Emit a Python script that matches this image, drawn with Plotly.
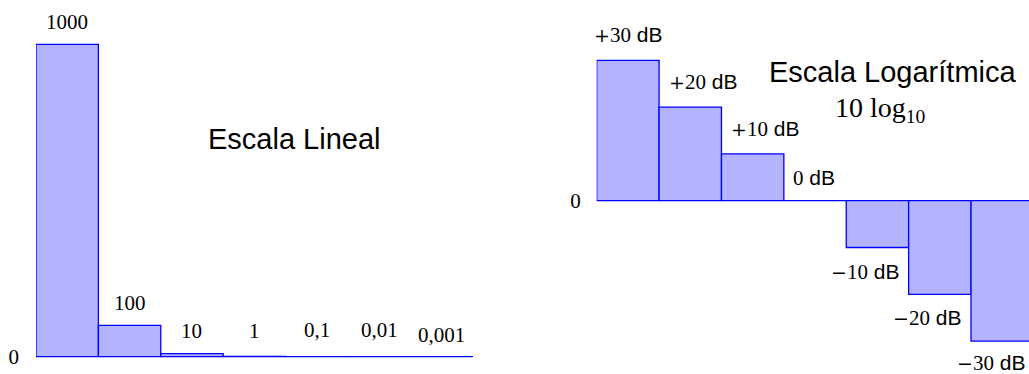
import plotly.graph_objects as go

# ---------------- data ----------------
lin_values = [1000, 100, 10, 1, 0.1, 0.01, 0.001]
lin_labels = ["1000", "100", "10", "1", "0,1", "0,01", "0,001"]

db_values = [30, 20, 10, 0, -10, -20, -30]
db_signs = ["+", "+", "+", "", "\u2212", "\u2212", "\u2212"]
db_numbers = ["30", "20", "10", "0", "10", "20", "30"]

positions = [0, 1, 2, 3, 4, 5, 6]

# ---------------- style ----------------
W, H = 1029, 374
FILL = "rgb(179,179,255)"
EDGE = "rgb(0,0,255)"
SERIF = "Liberation Serif"
SANS = "Liberation Sans"
SIGNFONT = "DejaVu Serif"

# label pixel offsets (styling only)
lin_dy = [22, 22, 23, 25, 27, 27, 22]
db_dx = [0, 12.5, 12.5, -1, -12, -12.5, -11.5]
db_dy = [25, 25, 25, 23, -24, -24, -22]

fig = go.Figure()

fig.add_trace(go.Bar(
    x=positions, y=lin_values, xaxis="x", yaxis="y",
    marker=dict(color=FILL, line=dict(color=EDGE, width=1.3)),
    hoverinfo="skip", showlegend=False,
))
fig.add_trace(go.Bar(
    x=positions, y=db_values, xaxis="x2", yaxis="y2",
    marker=dict(color=FILL, line=dict(color=EDGE, width=1.3)),
    hoverinfo="skip", showlegend=False,
))


def px_x(p):
    return p / W


def px_y(p):
    return 1 - p / H


# axis geometry (pixels)
L_left, L_right, L_base, L_top_px = 36.0, 472.7, 356.7, 44.3
k_lin = (L_base - L_top_px) / 1000.0
R_left, R_base = 596.7, 200.7
bar_px = (L_right - L_left) / 7.0
k_db = 4.68

axis_common = dict(showgrid=False, showline=False, zeroline=False, fixedrange=True)

fig.update_layout(
    width=W, height=H,
    margin=dict(l=0, r=0, t=0, b=0),
    paper_bgcolor="white", plot_bgcolor="rgba(0,0,0,0)",
    bargap=0,
    font=dict(family=SANS, size=21, color="black"),
    xaxis=dict(domain=[px_x(L_left), px_x(L_right)], range=[-0.5, 6.5],
               showticklabels=False, ticks="", anchor="y", **axis_common),
    yaxis=dict(domain=[0, 1], range=[-(H - L_base) / k_lin, L_base / k_lin],
               anchor="x", showgrid=False, showline=False, fixedrange=True,
               zeroline=True, zerolinecolor=EDGE, zerolinewidth=1.3,
               tickvals=[0], ticktext=["0"], ticks="",
               tickfont=dict(family=SERIF, size=21, color="black"),
               ticklabelstandoff=16),
    xaxis2=dict(domain=[px_x(R_left), 1.0],
                range=[-0.5, -0.5 + (W - R_left) / bar_px],
                showticklabels=False, ticks="", anchor="y2", **axis_common),
    yaxis2=dict(domain=[0, 1], range=[-(H - R_base) / k_db, R_base / k_db],
                anchor="x2", showgrid=False, showline=False, fixedrange=True,
                zeroline=True, zerolinecolor=EDGE, zerolinewidth=1.3,
                tickvals=[0], ticktext=["0"], ticks="",
                tickfont=dict(family=SERIF, size=21, color="black"),
                ticklabelstandoff=15),
)

annotations = []
for xi, v, lab, dy in zip(positions, lin_values, lin_labels, lin_dy):
    annotations.append(dict(
        x=xi, y=v, xref="x", yref="y", text=lab, showarrow=False,
        xanchor="center", yanchor="middle", yshift=dy,
        font=dict(family=SERIF, size=21, color="black"),
    ))

for xi, v, sg, num, dx, dy in zip(positions, db_values, db_signs, db_numbers, db_dx, db_dy):
    sign_html = (f"<span style='font-family:{SIGNFONT};font-size:19px'>{sg}</span>"
                 if sg else "")
    annotations.append(dict(
        x=xi, y=v, xref="x2", yref="y2",
        text=f"{sign_html}<span style='font-family:{SERIF}'>{num}</span> dB",
        showarrow=False, xanchor="center", yanchor="middle",
        xshift=dx, yshift=dy,
        font=dict(family=SANS, size=21, color="black"),
    ))

annotations.append(dict(
    x=px_x(294), y=px_y(139), xref="paper", yref="paper",
    text="Escala Lineal", showarrow=False, xanchor="center", yanchor="middle",
    font=dict(family=SANS, size=29, color="black"),
))
annotations.append(dict(
    x=px_x(892), y=px_y(72), xref="paper", yref="paper",
    text="Escala Logarítmica", showarrow=False, xanchor="center", yanchor="middle",
    font=dict(family=SANS, size=29, color="black"),
))
annotations.append(dict(
    x=px_x(880), y=px_y(109), xref="paper", yref="paper",
    text="10 log<sub>10</sub>", showarrow=False, xanchor="center", yanchor="middle",
    font=dict(family=SERIF, size=28, color="black"),
))

fig.update_layout(annotations=annotations)

fig.write_html("out.html",
               config={"displayModeBar": False, "staticPlot": True},
               post_script="document.body.style.margin='0px';"
                           "document.body.style.overflow='hidden';")
